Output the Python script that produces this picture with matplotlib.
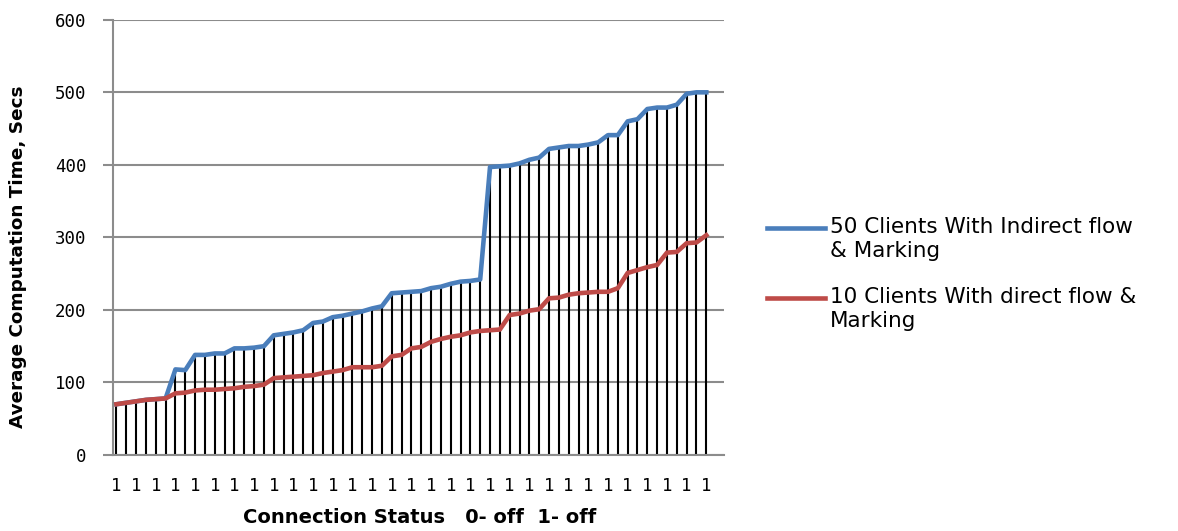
import numpy as np
import matplotlib
matplotlib.use("Agg")
import matplotlib.pyplot as plt
from matplotlib.lines import Line2D

# Connection status of each run (only every second label is printed)
status_labels = ["1"] * 61

# Average computation time (secs) per run
indirect_50 = [70, 72, 74, 76, 77, 78, 118, 117, 138, 138,
               140, 140, 147, 147, 148, 150, 165, 167, 169, 172,
               182, 184, 190, 192, 195, 198, 202, 205, 223, 224,
               225, 226, 230, 232, 236, 239, 240, 242, 397, 398,
               399, 402, 407, 410, 422, 424, 426, 426, 428, 431,
               441, 441, 460, 463, 477, 479, 479, 483, 498, 500,
               500]
direct_10 = [70, 72, 74, 76, 77, 78, 85, 86, 89, 90,
             90, 91, 92, 94, 95, 97, 106, 107, 108, 109,
             110, 113, 115, 117, 121, 121, 121, 123, 136, 138,
             147, 149, 156, 160, 163, 165, 169, 171, 172, 173,
             193, 195, 199, 201, 216, 217, 221, 223, 224, 225,
             225, 230, 251, 255, 259, 262, 279, 280, 292, 293,
             303]

series_names = ["50 Clients With Indirect flow\n& Marking",
                "10 Clients With direct flow &\nMarking"]
series_colors = ["#4a7ebb", "#be4b48"]

W, H = 1178, 531
fig = plt.figure(figsize=(W / 100, H / 100), dpi=100)
left, right, top, bottom = 113, 724, 19.8, 455
ax = fig.add_axes([left / W, 1 - bottom / H, (right - left) / W, (bottom - top) / H])

x = np.arange(len(indirect_50))
blue = np.array(indirect_50, dtype=float)
red = np.array(direct_10, dtype=float)

# drop lines from the highest series down to the axis
ax.vlines(x, 0, np.maximum(blue, red), color="black", lw=1.5, zorder=2)
ax.plot(x, blue, color=series_colors[0], lw=3.3, zorder=3, solid_joinstyle="round")
ax.plot(x, red, color=series_colors[1], lw=3.3, zorder=4, solid_joinstyle="round")

grid_col = "#8c8c8c"
ax.set_ylim(0, 600)
ax.set_yticks(range(0, 700, 100))
ax.set_xlim(-0.35, 61.8)
ax.grid(axis="y", color=grid_col, lw=1.5)
ax.set_axisbelow(True)
for s in ("top", "right"):
    ax.spines[s].set_visible(False)
for s in ("left", "bottom"):
    ax.spines[s].set_color(grid_col)
    ax.spines[s].set_linewidth(1.5)

mono = "DejaVu Sans Mono"
ax.tick_params(axis="y", direction="out", length=7.2, width=1.5, color=grid_col,
               pad=12, labelsize=12.5)
ax.tick_params(axis="x", length=0, pad=16, labelsize=12.5)
ax.set_xticks(x[::2])
ax.set_xticklabels(status_labels[::2])
for lab in ax.get_xticklabels() + ax.get_yticklabels():
    lab.set_fontfamily(mono)

ax.set_ylabel("Average Computation Time, Secs", fontsize=13.2, fontweight="bold")
ax.yaxis.set_label_coords((27 - left) / (right - left), 1 - (257 - top) / (bottom - top))
ax.set_xlabel("Connection Status   0- off  1- off", fontsize=14, fontweight="bold")
ax.xaxis.set_label_coords(0.502, -(508 - bottom) / (bottom - top))

# legend drawn beside the plot area
for i, (name, col) in enumerate(zip(series_names, series_colors)):
    yc = 228 + 70 * i
    fig.add_artist(Line2D([767 / W, 825 / W], [1 - yc / H] * 2, color=col, lw=3.3,
                          transform=fig.transFigure))
    fig.text(830 / W, 1 - (yc - 11) / H, name, fontsize=15.5, va="top", ha="left",
             linespacing=1.25)

fig.savefig("out.png", dpi=100)
